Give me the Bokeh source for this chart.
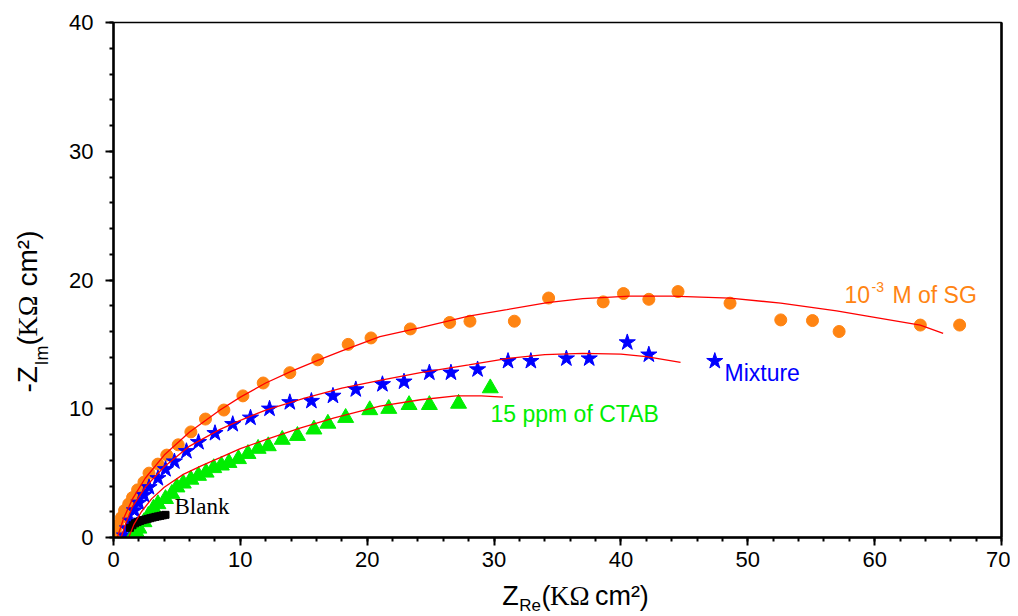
from math import pi
from bokeh.plotting import figure
from bokeh.layouts import row, column
from bokeh.models import Label, LinearAxis, SingleIntervalTicker, FixedTicker, Range1d
from bokeh.core.properties import value
from bokeh.embed import file_html
from bokeh.resources import INLINE

# ---------------- data ----------------
sg_x = [0.0, 0.16, 0.32, 0.63, 0.87, 1.2, 1.5, 1.9, 2.4, 2.8, 3.5, 4.2, 5.1, 6.1, 7.25,
        8.7, 10.2, 11.8, 13.9, 16.1, 18.5, 20.3, 23.4, 26.5, 28.1, 31.6, 34.3, 38.6,
        40.2, 42.2, 44.5, 48.6, 52.6, 55.1, 57.2, 63.6, 66.7]
sg_y = [0.08, 0.39, 0.93, 1.55, 2.1, 2.6, 3.1, 3.7, 4.3, 5.0, 5.7, 6.4, 7.2, 8.2, 9.2,
        9.9, 11.0, 12.0, 12.8, 13.8, 15.0, 15.5, 16.2, 16.7, 16.8, 16.8, 18.6, 18.3,
        18.95, 18.5, 19.1, 18.2, 16.9, 16.85, 16.0, 16.5, 16.5]

mix_x = [0.87, 1.1, 1.35, 1.65, 2.0, 2.4, 2.8, 3.5, 4.1, 4.8, 5.75, 6.7, 8.0, 9.4, 10.8,
         12.3, 13.9, 15.6, 17.3, 19.1, 21.2, 22.9, 24.9, 26.6, 28.7, 31.1, 32.9, 35.7,
         37.5, 40.5, 42.2, 47.4]
mix_y = [0.15, 0.7, 1.3, 2.1, 2.7, 3.3, 3.9, 4.6, 5.3, 5.9, 6.7, 7.4, 8.1, 8.8, 9.3,
         10.0, 10.5, 10.6, 11.0, 11.5, 11.9, 12.1, 12.8, 12.8, 13.05, 13.7, 13.7, 13.9,
         13.9, 15.15, 14.2, 13.7]

ctab_x = [1.5, 1.8, 2.0, 2.4, 2.75, 3.15, 3.5, 4.1, 4.6, 5.0, 5.5, 6.1, 6.7, 7.3, 7.9,
          8.5, 9.1, 9.85, 10.6, 11.4, 12.2, 13.3, 14.5, 15.8, 16.9, 18.3, 20.2, 21.7,
          23.3, 24.9, 27.2, 29.7]
ctab_y = [0.1, 0.4, 0.7, 1.2, 1.7, 2.25, 2.6, 3.0, 3.4, 3.9, 4.2, 4.5, 4.8, 5.05, 5.4,
          5.6, 5.8, 6.1, 6.5, 6.9, 7.1, 7.6, 7.9, 8.4, 8.85, 9.3, 9.9, 10.0, 10.3, 10.3,
          10.4, 11.6]

blank_x = [1.3, 1.5, 1.7, 1.9, 2.1, 2.3, 2.5, 2.7, 2.9, 3.1, 3.3, 3.5, 3.7, 3.9, 4.1]
blank_y = [0.75, 0.95, 1.1, 1.2, 1.28, 1.35, 1.4, 1.45, 1.5, 1.55, 1.6, 1.64, 1.68, 1.72, 1.76]

# fitted curves (red lines)
sg_fit_x = [0.3, 0.8, 1.5, 2.5, 4.0, 6.0, 8.4, 10.0, 12.0, 14.0, 16.1, 18.0, 21.0, 24.2,
            28.0, 31.0, 34.2, 37.0, 40.7, 44.0, 48.6, 52.6, 57.0, 60.0, 63.6, 65.4]
sg_fit_y = [0.0, 1.5, 3.0, 4.6, 6.4, 8.2, 9.9, 10.9, 12.0, 12.9, 13.75, 14.5, 15.6, 16.3,
            17.2, 17.7, 18.25, 18.55, 18.75, 18.75, 18.6, 18.2, 17.6, 17.1, 16.5, 15.85]
mix_fit_x = [0.6, 1.0, 1.5, 2.5, 4.0, 6.0, 8.4, 10.0, 12.0, 15.0, 18.0, 21.0, 24.2, 28.0,
             31.0, 34.0, 37.0, 40.0, 42.0, 44.7]
mix_fit_y = [0.0, 1.2, 2.4, 3.9, 5.5, 7.1, 8.4, 9.1, 9.9, 10.8, 11.6, 12.2, 12.8, 13.4,
             13.9, 14.2, 14.3, 14.25, 14.05, 13.6]
ctab_fit_x = [1.2, 1.6, 2.2, 3.0, 4.0, 5.5, 7.0, 8.4, 10.0, 12.0, 14.7, 17.4, 21.0, 24.2,
              27.0, 29.0, 30.7]
ctab_fit_y = [0.0, 1.0, 2.0, 3.0, 3.9, 4.9, 5.6, 6.2, 6.9, 7.6, 8.5, 9.3, 10.2, 10.7,
              11.0, 11.0, 10.9]

x_ticks_interval = 10
y_ticks_interval = 10

ORANGE = "#FF8412"
BLUE = "#0000FF"
GREEN = "#00EE00"
RED = "#FF0000"

# ---------------- layout sizes ----------------
YLAB_W = 60          # left strip holding the rotated y title
MAIN_W = 950
MAIN_H = 577
XLAB_H = 38
TOTAL_H = MAIN_H + XLAB_H
FIX = 0.37           # baseline correction (fraction of font size)

# ---------------- main figure ----------------
p = figure(width=MAIN_W, height=MAIN_H, output_backend="svg", toolbar_location=None,
           x_range=Range1d(0, 70), y_range=Range1d(0, 40),
           min_border_left=113 - YLAB_W, min_border_right=9,
           min_border_top=22, min_border_bottom=MAIN_H - 537)
p.xgrid.visible = False
p.ygrid.visible = False
p.outline_line_color = "black"
p.outline_line_width = 1.5
p.background_fill_color = "white"
p.border_fill_color = "white"

for ax, iv in ((p.xaxis, x_ticks_interval), (p.yaxis, y_ticks_interval)):
    ax.ticker = SingleIntervalTicker(interval=iv, num_minor_ticks=5)
    ax.axis_line_width = 2.5
    ax.major_tick_line_width = 2
    ax.minor_tick_line_width = 2
    ax.major_tick_in = 0
    ax.major_tick_out = 8
    ax.minor_tick_in = 0
    ax.minor_tick_out = 4
    ax.major_label_text_font = "Liberation Sans"
    ax.major_label_text_font_size = "22px"
    ax.major_label_text_color = "black"
p.xaxis.major_label_standoff = 6
p.yaxis.major_label_standoff = 12

right_ax = LinearAxis(axis_line_width=2.5, ticker=FixedTicker(ticks=[]),
                      major_tick_line_color=None, minor_tick_line_color=None)
p.add_layout(right_ax, "right")

# markers
p.scatter(sg_x, sg_y, marker="circle", size=12, fill_color=ORANGE, line_color=ORANGE)
p.scatter(mix_x, mix_y, marker="star", size=17, fill_color=BLUE, line_color=BLUE)
p.scatter(ctab_x, ctab_y, marker="triangle", size=16, fill_color=GREEN, line_color=GREEN)
p.scatter(blank_x, blank_y, marker="square", size=7, fill_color="black", line_color="black")

# fits
p.line(sg_fit_x, sg_fit_y, line_color=RED, line_width=1.3)
p.line(mix_fit_x, mix_fit_y, line_color=RED, line_width=1.3)
p.line(ctab_fit_x, ctab_fit_y, line_color=RED, line_width=1.3)

# ---------------- in-plot text ----------------
def dx(px):
    return (px - 113) / 12.6857

def dy(py):
    return (537 - py) / 12.875

def lab(text, px, py, size, color="black", font="Liberation Sans"):
    py = py - FIX * size
    p.add_layout(Label(x=dx(px), y=dy(py), text=text, text_font=font,
                       text_font_size=f"{size}px", text_color=color,
                       text_baseline="alphabetic", text_align="left"))

lab("10", 844, 303, 23, ORANGE)
lab("-3", 871, 292, 14, ORANGE)
lab("M of SG", 892, 303, 23, ORANGE)
lab("Mixture", 724, 381, 23, BLUE)
lab("15 ppm of CTAB", 490, 422, 23, GREEN)
lab("Blank", 174, 515, 23, "black", font="Liberation Serif")

# ---------------- axis titles (text strips) ----------------
def strip(w, h):
    f = figure(width=w, height=h, output_backend="svg", toolbar_location=None,
               x_range=Range1d(0, w), y_range=Range1d(h, 0),
               x_axis_location=None, y_axis_location=None, min_border=0,
               outline_line_color=None)
    f.xgrid.visible = False
    f.ygrid.visible = False
    return f

def put(f, text, x, y, size, font="Liberation Sans", rotated=False):
    if rotated:
        x = x - FIX * size
    else:
        y = y - FIX * size
    f.text(x=[x], y=[y], text=[text], text_font=value(font),
           text_font_size=value(f"{size}px"), text_color="black",
           text_baseline="alphabetic", text_align="left",
           angle=pi / 2 if rotated else 0.0)

# x title: Z_Re(KΩ cm²) ; canvas coords shifted by the strip origin
xl = strip(MAIN_W, XLAB_H)
ox, oy = YLAB_W, MAIN_H
put(xl, "Z", 476 - ox, 605 - oy, 27)
put(xl, "Re", 494 - ox, 611 - oy, 17)
put(xl, "(", 518 - ox, 605 - oy, 27)
put(xl, "KΩ", 527 - ox, 605 - oy, 27, font="Liberation Serif")
put(xl, "cm²)", 575 - ox, 605 - oy, 27)

# y title: -Z_Im(KΩ cm²), rotated
yl = strip(YLAB_W, TOTAL_H)
put(yl, "-Z", 37, 392, 28, rotated=True)
put(yl, "Im", 48, 365, 18, rotated=True)
put(yl, "(", 37, 345, 28, rotated=True)
put(yl, "KΩ", 37, 336, 28, font="Liberation Serif", rotated=True)
put(yl, "cm²)", 37, 286, 28, rotated=True)

layout = row(yl, column(p, xl, spacing=0), spacing=0)
open("out.html", "w").write(file_html(layout, INLINE))
